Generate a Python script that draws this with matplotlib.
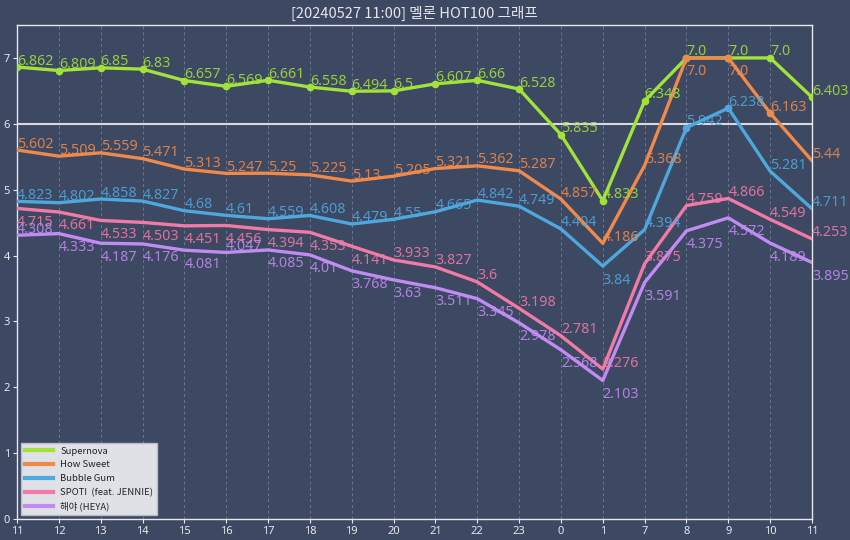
import matplotlib
matplotlib.use("Agg")
import matplotlib.pyplot as plt
from matplotlib.lines import Line2D

hours = ['11', '12', '13', '14', '15', '16', '17', '18', '19', '20',
         '21', '22', '23', '0', '1', '7', '8', '9', '10', '11']

supernova = [6.862, 6.809, 6.85, 6.83, 6.657, 6.569, 6.661, 6.558, 6.494, 6.5,
             6.607, 6.66, 6.528, 5.835, 4.833, 6.348, 7.0, 7.0, 7.0, 6.403]
how_sweet = [5.602, 5.509, 5.559, 5.471, 5.313, 5.247, 5.25, 5.225, 5.13, 5.205,
             5.321, 5.362, 5.287, 4.857, 4.186, 5.368, 7.0, 7.0, 6.163, 5.44]
bubble_gum = [4.823, 4.802, 4.858, 4.827, 4.68, 4.61, 4.559, 4.608, 4.479, 4.55,
              4.665, 4.842, 4.749, 4.404, 3.84, 4.394, 5.942, 6.238, 5.281, 4.711]
spoti = [4.715, 4.661, 4.533, 4.503, 4.451, 4.456, 4.394, 4.353, 4.141, 3.933,
         3.827, 3.6, 3.198, 2.781, 2.276, 3.875, 4.759, 4.866, 4.549, 4.253]
heya = [4.308, 4.333, 4.187, 4.176, 4.081, 4.047, 4.085, 4.01, 3.768, 3.63,
        3.511, 3.345, 2.978, 2.568, 2.103, 3.591, 4.375, 4.572, 4.189, 3.895]

names = ['Supernova', 'How Sweet', 'Bubble Gum', 'SPOTI  (feat. JENNIE)', '해야 (HEYA)']
series = [supernova, how_sweet, bubble_gum, spoti, heya]

# style
colors = ['#a2e23a', '#f08a4b', '#4ea8de', '#f27aa6', '#c18cf2']
marker_idx = [list(range(20)), [16, 17, 18], [16, 17], [], []]
# label placement: 1 = below the point, 0 = above
below = [
    [0] * 20,
    [0] * 16 + [1, 1, 0, 0],
    [0] * 14 + [1] + [0] * 5,
    [1] * 9 + [0] * 11,
    [0, 1, 1, 1, 1, 0] + [1] * 14,
]

BG = '#3d4862'
plt.rcParams['font.family'] = ['Noto Sans', 'Noto Sans CJK KR', 'DejaVu Sans']

fig = plt.figure(figsize=(8.5, 5.4), dpi=100, facecolor=BG)
ax = fig.add_axes([17 / 850, 21 / 540, 795 / 850, 494 / 540], facecolor=BG)

x = list(range(len(hours)))
ax.set_xlim(0, len(hours) - 1)
ax.set_ylim(0, 7.5)

for xi in x:
    ax.axvline(xi, color='#8a96ae', lw=0.7, ls=(0, (3, 3)), alpha=0.6, zorder=1)
ax.axhline(6, color='#d8dae0', lw=1.5, zorder=1.5)

for s, vals, c, mk in zip(names, series, colors, marker_idx):
    ax.plot(x, vals, color=c, lw=2.4, label=s, zorder=3, solid_joinstyle='round')
    if mk:
        ax.plot([x[i] for i in mk], [vals[i] for i in mk], 'o', color=c,
                ms=4.5, zorder=4)

for vals, c, bl in zip(series, colors, below):
    for i, v in enumerate(vals):
        dy = -14 if bl[i] else 6
        ax.annotate(f'{v}', (x[i], v), xytext=(0, dy), textcoords='offset pixels',
                    ha='left', va='center', color=c, fontsize=10.3,
                    family=['Noto Sans', 'DejaVu Sans'], alpha=0.88, zorder=5,
                    annotation_clip=False)

ax.set_xticks(x)
ax.set_xticklabels(hours)
ax.set_yticks(range(8))
ax.tick_params(colors='#e8e8ec', labelsize=8, length=3, width=0.8, pad=2)
for sp in ax.spines.values():
    sp.set_color('#e8e8ec')
    sp.set_linewidth(1.0)

ax.set_title('[20240527 11:00] 멜론 HOT100 그래프', color='#e6e6ea', fontsize=10.5,
             pad=5, family=['Noto Sans CJK KR', 'DejaVu Sans'])

handles = [Line2D([0], [0], color=c, lw=3) for c in colors]
leg = ax.legend(handles, names, loc='lower left',
                prop={'family': ['Noto Sans CJK KR', 'DejaVu Sans'], 'size': 6.8},
                facecolor='#dfe1e6', edgecolor='#b8bcc6', framealpha=1.0,
                borderaxespad=0.4, handlelength=3.0, fancybox=False,
                labelspacing=0.5)
for t in leg.get_texts():
    t.set_color('#222222')
leg.set_zorder(10)

fig.savefig('out.png', dpi=100, facecolor=BG)
